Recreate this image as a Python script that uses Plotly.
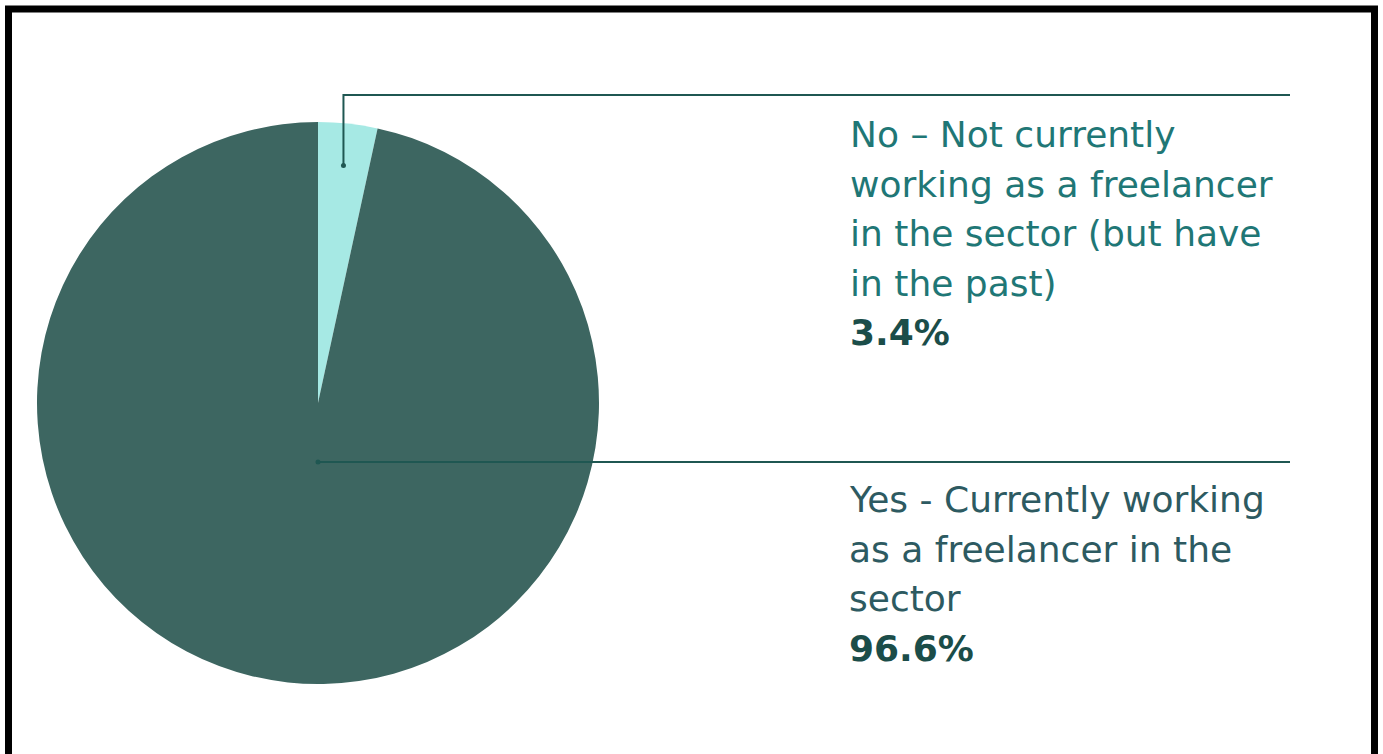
import math
import plotly.graph_objects as go

# Survey response shares
categories = [
    "No – Not currently working as a freelancer in the sector (but have in the past)",
    "Yes - Currently working as a freelancer in the sector",
]
values = [3.4, 96.6]
label_lines = [
    ["No – Not currently", "working as a freelancer", "in the sector (but have", "in the past)"],
    ["Yes - Currently working", "as a freelancer in the", "sector"],
]
slice_colors = ["#a6e9e4", "#3d6661"]
text_colors = ["#1f7776", "#2d5a61"]

W, H = 1383, 754


def px(x):
    return x / W


def py(y):
    return 1 - y / H


# pie geometry in pixels
cx, cy, r = 318, 403, 281

fig = go.Figure(
    go.Pie(
        labels=categories,
        values=values,
        sort=False,
        direction="clockwise",
        rotation=0,
        marker=dict(colors=slice_colors, line=dict(width=0)),
        textinfo="none",
        hoverinfo="label+percent",
        showlegend=False,
        domain=dict(x=[px(cx - r), px(cx + r)], y=[py(cy + r), py(cy - r)]),
    )
)

line_col = "#1f5752"
shapes = []
annotations = []

# leader line for the small slice: from its mid-angle, up and across
total = sum(values)
mid = values[0] / total * 360 / 2
ax = cx + 0.85 * r * math.sin(math.radians(mid))
ay = cy - 0.85 * r * math.cos(math.radians(mid))
top_y = 95
end_x = 1290
shapes.append(dict(type="path", xref="paper", yref="paper",
                   path=f"M {px(ax)},{py(ay)} L {px(ax)},{py(top_y)} L {px(end_x)},{py(top_y)}",
                   line=dict(color=line_col, width=2)))
# leader line for the large slice
by = 462
shapes.append(dict(type="line", xref="paper", yref="paper",
                   x0=px(cx), y0=py(by), x1=px(end_x), y1=py(by),
                   line=dict(color=line_col, width=2)))
for (dx, dy) in [(ax, ay), (cx, by)]:
    shapes.append(dict(type="circle", xref="paper", yref="paper",
                       x0=px(dx - 2.5), x1=px(dx + 2.5), y0=py(dy + 2.5), y1=py(dy - 2.5),
                       fillcolor=line_col, line=dict(width=0)))

# outer frame
shapes.append(dict(type="rect", xref="paper", yref="paper",
                   x0=px(8.5), x1=px(1374.5), y0=py(800), y1=py(9),
                   line=dict(color="#000000", width=7), fillcolor="rgba(0,0,0,0)"))

# labels, one annotation per line
font_family = "'DejaVu Sans', sans-serif"
fs = 36
label_x = [848, 847]
first_baseline = [148, 513]
step = 49.5
off = 0.25
for i, lines in enumerate(label_lines):
    for j, txt in enumerate(lines):
        base = first_baseline[i] + j * step
        annotations.append(dict(
            x=px(label_x[i]), y=py(base + off * fs), xref="paper", yref="paper",
            xanchor="left", yanchor="bottom", showarrow=False, align="left",
            text=txt, font=dict(family=font_family, size=fs, color=text_colors[i])))
    base = first_baseline[i] + len(lines) * step
    annotations.append(dict(
        x=px(label_x[i]), y=py(base + off * fs), xref="paper", yref="paper",
        xanchor="left", yanchor="bottom", showarrow=False, align="left",
        text=f"<b>{values[i]:.1f}%</b>",
        font=dict(family=font_family, size=fs, color="#1b4d49")))

fig.update_layout(
    width=W, height=H,
    margin=dict(l=0, r=0, t=0, b=0),
    paper_bgcolor="#ffffff",
    plot_bgcolor="#ffffff",
    shapes=shapes,
    annotations=annotations,
)

fig.write_html("out.html")
